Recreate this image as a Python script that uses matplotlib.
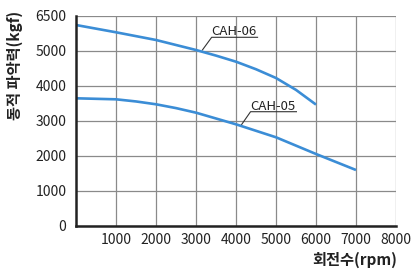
import matplotlib
matplotlib.use("Agg")
import matplotlib.pyplot as plt

plt.rcParams['font.family'] = ['Noto Sans CJK KR', 'DejaVu Sans']

# data
rpm_06 = [0, 1000, 2000, 3000, 3500, 4000, 4500, 5000, 5500, 6000]
force_06 = [5734, 5526, 5306, 5020, 4860, 4686, 4470, 4220, 3880, 3460]
rpm_05 = [0, 1000, 1500, 2000, 2500, 3000, 4000, 5000, 6000, 7000]
force_05 = [3640, 3611, 3550, 3469, 3360, 3229, 2897, 2526, 2049, 1591]
x_ticks = [1000, 2000, 3000, 4000, 5000, 6000, 7000, 8000]
y_ticks = [0, 1000, 2000, 3000, 4000, 5000, 6000]
y_tick_labels = ['0', '1000', '2000', '3000', '4000', '5000', '6500']
series_names = ['CAH-06', 'CAH-05']

line_color = '#3b8dd6'
text_color = '#222222'
grid_color = '#8a8a8a'

fig = plt.figure(figsize=(4.11, 2.74), dpi=100)
ax = fig.add_axes([76/411, 1 - 225.7/274, 320/411, 210/274])

ax.plot(rpm_06, force_06, color=line_color, lw=1.9, solid_capstyle='butt', zorder=3)
ax.plot(rpm_05, force_05, color=line_color, lw=1.9, solid_capstyle='butt', zorder=3)

ax.set_xlim(0, 8000)
ax.set_ylim(0, 6000)
ax.set_xticks(x_ticks)
ax.set_yticks(y_ticks)
ax.set_yticklabels(y_tick_labels)
ax.grid(True, color=grid_color, lw=0.9)
ax.set_axisbelow(True)
for s in ['top', 'right']:
    ax.spines[s].set_visible(False)
for s in ['left', 'bottom']:
    ax.spines[s].set_color(text_color)
    ax.spines[s].set_linewidth(1.8)
    ax.spines[s].set_zorder(4)
ax.tick_params(axis='both', length=0, labelsize=10, colors=text_color)
ax.tick_params(axis='y', pad=7)
ax.tick_params(axis='x', pad=5)

# annotations
ann_col = '#333333'
# CAH-06
ax.plot([3160, 3392, 4539], [5020, 5383, 5383], color=ann_col, lw=0.8, zorder=2)
ax.text(3392, 5450, series_names[0], fontsize=9.5, color=text_color, ha='left', va='baseline')
# CAH-05
ax.plot([4132, 4364, 5511], [2877, 3257, 3257], color=ann_col, lw=0.8, zorder=2)
ax.text(4364, 3310, series_names[1], fontsize=9.5, color=text_color, ha='left', va='baseline')

fig.text(397/411, 1 - 260/274, '회전수(rpm)', fontsize=11, fontweight='bold',
         color=text_color, ha='right', va='center')
fig.text(15/411, 1 - 65/274, '동적 파악력(kgf)', fontsize=11, fontweight='bold',
         color=text_color, ha='center', va='center', rotation=90)

fig.savefig('out.png', dpi=100)
